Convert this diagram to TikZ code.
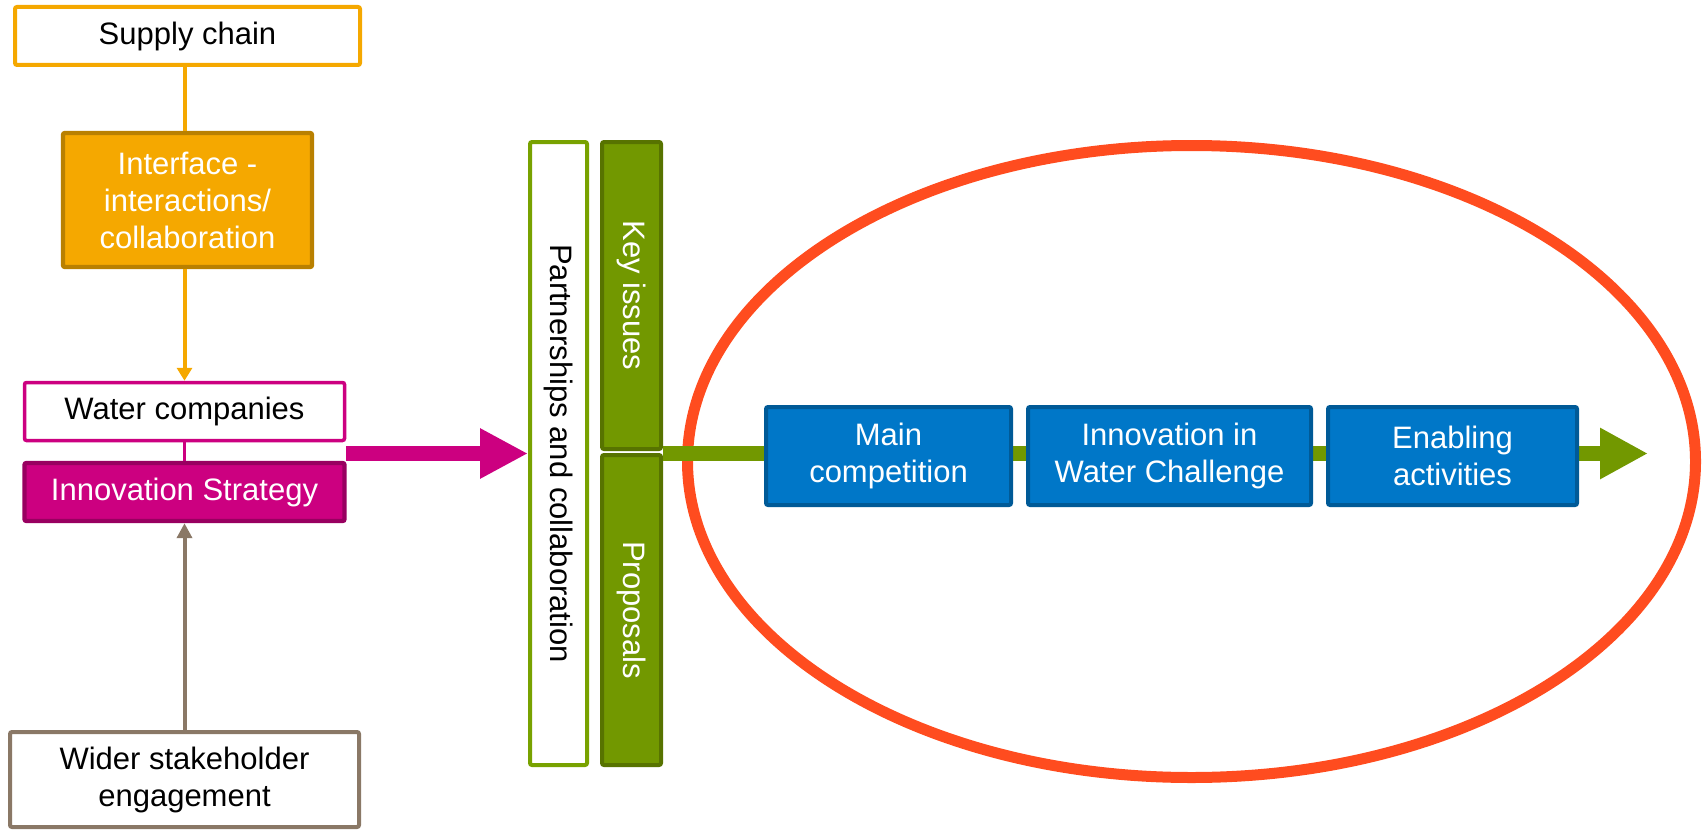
\documentclass[tikz,border=0pt]{standalone}
\usepackage{fontspec}
\setmainfont{Liberation Sans}
\usetikzlibrary{arrows.meta}
\definecolor{cOrange}{HTML}{F5A800}
\definecolor{cOrangeD}{HTML}{B98000}
\definecolor{cPink}{HTML}{CC0080}
\definecolor{cPinkD}{HTML}{980060}
\definecolor{cBrown}{HTML}{8A7866}
\definecolor{cGreen}{HTML}{729800}
\definecolor{cGreenL}{HTML}{78A200}
\definecolor{cGreenD}{HTML}{577300}
\definecolor{cBlue}{HTML}{0077C8}
\definecolor{cBlueD}{HTML}{005A97}
\definecolor{cRed}{HTML}{FF4C1F}
\newcommand{\fsz}{\fontsize{15.5pt}{18.5pt}\selectfont}
\tikzset{
  box/.style={draw, rectangle, rounded corners=1pt, align=center, inner sep=0pt, font=\fsz},
  openbox/.style={box, fill=white, text=black},
  fillbox/.style={box, text=white},
  vert/.style={rotate=-90},
}
\begin{document}
\begin{tikzpicture}[x=0.5pt,y=-0.5pt]
\useasboundingbox (0,0) rectangle (1706,829);

% left column
\node[openbox, draw=cOrange, line width=2pt, minimum width=172.5pt, minimum height=29pt] (sc) at (187.5,36) {Supply chain};
\node[fillbox, fill=cOrange, draw=cOrangeD, line width=2.2pt, minimum width=124.5pt, minimum height=67pt] (ifc) at (187.5,200) {Interface -\\interactions/\\collaboration};
\node[openbox, draw=cPink, line width=1.75pt, minimum width=160pt, minimum height=29pt] (wc) at (184.5,411.5) {Water companies};
\node[fillbox, fill=cPink, draw=cPinkD, line width=2.2pt, minimum width=160pt, minimum height=29pt] (is) at (184.5,492) {Innovation Strategy};
\node[openbox, draw=cBrown, line width=2pt, minimum width=174.5pt, minimum height=47.5pt] (wsh) at (184.5,779.5) {Wider stakeholder\\engagement};

% partnership column (rotated: north = right side, south = left side)
\node[openbox, vert, draw=cGreenL, line width=2pt, minimum width=311.5pt, minimum height=28.5pt] (pc) at (558.5,453.5) {Partnerships and collaboration};
\node[fillbox, vert, fill=cGreen, draw=cGreenD, line width=2pt, minimum width=153.5pt, minimum height=29.5pt] (ki) at (631.5,295.5) {Key issues};
\node[fillbox, vert, fill=cGreen, draw=cGreenD, line width=2pt, minimum width=155pt, minimum height=29.5pt] (pr) at (631.5,610) {Proposals};

% ellipse
\draw[cRed, line width=5.5pt] (1191.5,461.5) ellipse [x radius=252pt, y radius=158pt];

% green arrow
\coordinate (ge) at (1648,453.5);
\draw[cGreen, line width=7.5pt, -{Triangle[length=24pt,width=24pt]}] (ki.north |- ge) -- (ge);

% blue boxes
\node[fillbox, fill=cBlue, draw=cBlueD, line width=2pt, minimum width=122.5pt, minimum height=49pt] (mc) at (888.5,456) {Main\\competition};
\node[fillbox, fill=cBlue, draw=cBlueD, line width=2pt, minimum width=141.5pt, minimum height=49pt] (iw) at (1169.5,456) {Innovation in\\Water Challenge};
\node[fillbox, fill=cBlue, draw=cBlueD, line width=2pt, minimum width=124.5pt, minimum height=49pt] (ea) at (1452.5,456) {Enabling\\activities};

% connectors
\draw[cOrange, line width=2pt] (sc.south -| wc.north) -- (ifc.north -| wc.north);
\draw[cOrange, line width=2pt, -{Triangle[length=6.5pt,width=7.5pt]}] (ifc.south -| wc.north) -- (wc.north);
\draw[cPink, line width=1.5pt] (wc.south) -- (is.north);
\draw[cBrown, line width=2pt, -{Triangle[length=7.5pt,width=7.5pt]}] (wsh.north -| is.south) -- (is.south);
\draw[cPink, line width=7.5pt, -{Triangle[length=24pt,width=23.5pt]}] (wc.east |- pc.south) -- (pc.south);
\end{tikzpicture}
\end{document}
